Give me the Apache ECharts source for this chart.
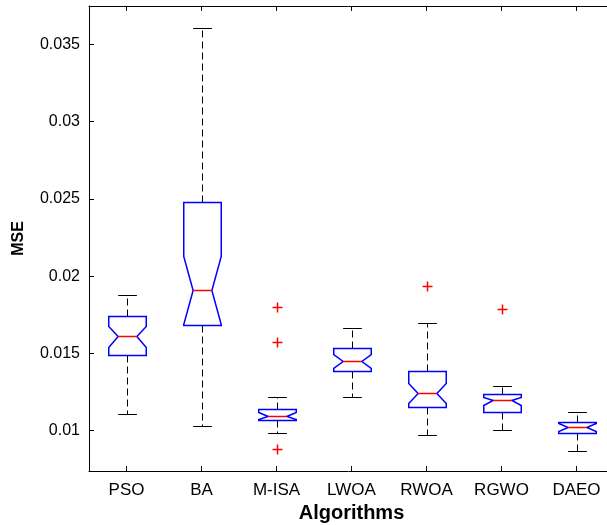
<!DOCTYPE html>
<html>
<head>
<meta charset="utf-8">
<script src="https://cdn.jsdelivr.net/npm/echarts@6/dist/echarts.min.js"></script>
<style>
  html, body { margin: 0; padding: 0; background: #fff; overflow: hidden; }
  #boxes { width: 607px; height: 525px; }
</style>
</head>
<body>
<div id="boxes"></div>
<script>
var categories = ['PSO', 'BA', 'M-ISA', 'LWOA', 'RWOA', 'RGWO', 'DAEO'];
var whiskerLow  = [0.01110, 0.01030, 0.00985, 0.01220, 0.00974, 0.01003, 0.00871];
var q1          = [0.01490, 0.01684, 0.01069, 0.01386, 0.01155, 0.01121, 0.00983];
var notchLow    = [0.01543, 0.01688, 0.01074, 0.01408, 0.01177, 0.01166, 0.01000];
var median      = [0.01611, 0.01910, 0.01097, 0.01451, 0.01242, 0.01199, 0.01026];
var notchHigh   = [0.01679, 0.02132, 0.01119, 0.01494, 0.01307, 0.01220, 0.01048];
var q3          = [0.01744, 0.02478, 0.01138, 0.01537, 0.01388, 0.01236, 0.01058];
var whiskerHigh = [0.01880, 0.03607, 0.01220, 0.01663, 0.01699, 0.01289, 0.01123];

// outliers: category index + value
var outlierCat = [2, 2, 2, 4, 5];
var outlierVal = [0.01798, 0.01574, 0.00882, 0.01936, 0.01787];

var yRange = { min: 0.007393, max: 0.037478 };

var boxdom = document.getElementById('boxes');
var boxchart = echarts.init(boxdom);

var boxData = categories.map(function (c, i) {
  return [i, whiskerLow[i], q1[i], notchLow[i], median[i], notchHigh[i], q3[i], whiskerHigh[i]];
});
var outlierData = outlierCat.map(function (c, k) { return [c, outlierVal[k]]; });

function renderBox(params, api) {
  var i = api.value(0);
  var cx = Math.round(api.coord([i, api.value(4)])[0]) + 0.5;
  var bw = api.size([1, 0])[0] * 0.5;
  var hw = bw / 2;
  var qw = hw / 2;
  var y = function (v) { return Math.round(api.coord([i, v])[1]) + 0.5; };
  var wl = y(api.value(1)), b1 = y(api.value(2)), nl = y(api.value(3)),
      md = y(api.value(4)), nh = y(api.value(5)), b3 = y(api.value(6)), wh = y(api.value(7));
  var dash = { stroke: '#000', lineWidth: 1, lineDash: [7, 4] };
  var solid = { stroke: '#000', lineWidth: 1 };
  return {
    type: 'group',
    children: [
      { type: 'line', shape: { x1: cx, y1: b3, x2: cx, y2: wh }, style: dash },
      { type: 'line', shape: { x1: cx, y1: b1, x2: cx, y2: wl }, style: dash },
      { type: 'line', shape: { x1: cx - qw, y1: wh, x2: cx + qw, y2: wh }, style: solid },
      { type: 'line', shape: { x1: cx - qw, y1: wl, x2: cx + qw, y2: wl }, style: solid },
      {
        type: 'polygon',
        shape: {
          points: [
            [cx - hw, b3], [cx + hw, b3], [cx + hw, nh], [cx + qw, md], [cx + hw, nl],
            [cx + hw, b1], [cx - hw, b1], [cx - hw, nl], [cx - qw, md], [cx - hw, nh]
          ]
        },
        style: { fill: 'none', stroke: '#0000ff', lineWidth: 1.5 }
      },
      { type: 'line', shape: { x1: cx - qw, y1: md, x2: cx + qw, y2: md }, style: { stroke: '#ff0000', lineWidth: 1.5 } }
    ]
  };
}

function renderPlus(params, api) {
  var p = api.coord([api.value(0), api.value(1)]);
  var px = Math.round(p[0]) + 0.5, py = Math.round(p[1]) + 0.5;
  var s = 5;
  var st = { stroke: '#ff0000', lineWidth: 1.5 };
  return {
    type: 'group',
    children: [
      { type: 'line', shape: { x1: px - s, y1: py, x2: px + s, y2: py }, style: st },
      { type: 'line', shape: { x1: px, y1: py - s, x2: px, y2: py + s }, style: st }
    ]
  };
}

var tickStyle = { show: true, inside: true, alignWithLabel: true, length: 5, lineStyle: { color: '#000', width: 1 } };

var boxoption = {
  animation: false,
  grid: { left: 89, top: 6, width: 525, height: 465, outerBoundsMode: 'none', containLabel: false },
  xAxis: [
    {
      type: 'category',
      data: categories,
      name: 'Algorithms',
      nameLocation: 'middle',
      nameGap: 26,
      nameTextStyle: { fontFamily: 'Liberation Sans', fontWeight: 'bold', fontSize: 20, color: '#000' },
      axisLine: { lineStyle: { color: '#000', width: 1 } },
      axisTick: tickStyle,
      axisLabel: { fontFamily: 'Liberation Sans', fontSize: 17, color: '#000', margin: 11 },
      splitLine: { show: false }
    },
    {
      type: 'category',
      data: categories,
      position: 'top',
      axisLine: { lineStyle: { color: '#000', width: 1 } },
      axisTick: tickStyle,
      axisLabel: { show: false },
      splitLine: { show: false }
    }
  ],
  yAxis: {
    type: 'value',
    min: yRange.min,
    max: yRange.max,
    name: 'MSE',
    nameLocation: 'middle',
    nameGap: 62,
    nameTextStyle: { fontFamily: 'Liberation Sans', fontWeight: 'bold', fontSize: 16, color: '#000' },
    axisLine: { show: true, lineStyle: { color: '#000', width: 1 } },
    axisTick: { show: true, inside: true, length: 5, lineStyle: { color: '#000', width: 1 } },
    axisLabel: { fontFamily: 'Liberation Sans', fontSize: 16, color: '#000', margin: 9, showMinLabel: false, showMaxLabel: false },
    splitLine: { show: false }
  },
  // white strip on its own layer, over the right edge of the plot
  graphic: [
    { type: 'rect', silent: true, zlevel: 5, shape: { x: 600, y: 8, width: 7, height: 461 }, style: { fill: '#fff' } }
  ],
  series: [
    {
      type: 'custom',
      coordinateSystem: 'cartesian2d',
      renderItem: renderBox,
      encode: { x: 0, y: [1, 2, 3, 4, 5, 6, 7] },
      data: boxData,
      clip: false,
      z: 2
    },
    {
      type: 'custom',
      coordinateSystem: 'cartesian2d',
      renderItem: renderPlus,
      encode: { x: 0, y: 1 },
      data: outlierData,
      clip: false,
      z: 3
    }
  ]
};

boxoption && boxchart.setOption(boxoption);
</script>
</body>
</html>
